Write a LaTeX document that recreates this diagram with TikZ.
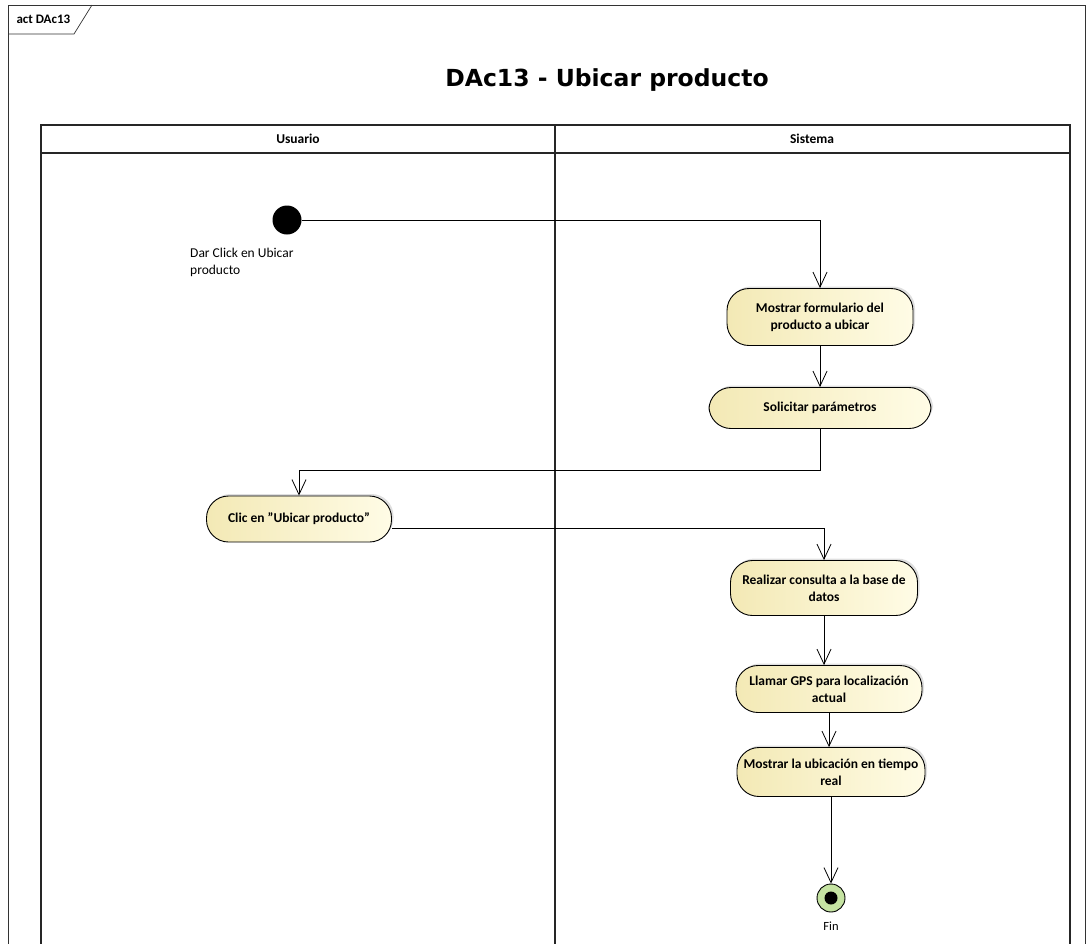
\documentclass[tikz,border=0pt]{standalone}
\usepackage{fontspec}
\setmainfont{Carlito}
\newfontfamily\titlefont{DejaVu Sans}
\usetikzlibrary{arrows.meta,shadows,calc}
\definecolor{actl}{HTML}{F3E9B5}
\definecolor{actr}{HTML}{FFFCE6}
\definecolor{fingreen}{HTML}{C5E3A2}
\tikzset{
  act/.style={draw=black, line width=0.9pt, rounded corners=22pt, left color=actl, right color=actr,
    align=center, font=\bfseries\fontsize{13.5}{17}\selectfont, inner sep=2pt,
    drop shadow={shadow xshift=2pt, shadow yshift=2pt, fill=black!25}},
  flow/.style={draw=black, line width=0.8pt, -{Straight Barb[length=15pt,width=14pt,line width=0.8pt]}},
  lane/.style={draw=black!85, line width=1.4pt},
  frm/.style={draw=black!80, line width=0.7pt},
}
\begin{document}
\begin{tikzpicture}[x=1pt,y=-1pt]
\useasboundingbox (0,0) rectangle (1090,943);
\begin{scope}
\clip (0,0) rectangle (1090,943);
% outer frame
\draw[frm] (8,960) -- (8,5) -- (1085,5) -- (1085,960);
\draw[frm] (8,34) -- (74,34) -- (92,5);
\node[anchor=west, font=\bfseries\fontsize{13}{15}\selectfont] (tab) at (13,19) {act DAc13};
% title
\node[font=\titlefont\bfseries\fontsize{23.5}{28}\selectfont] (title) at (607,80) {DAc13 - Ubicar producto};
% swimlanes
\draw[lane] (41,960) -- (41,125) -- (1070,125) -- (1070,960);
\draw[lane] (41,153) -- (1070,153);
\draw[lane] (555,125) -- (555,960);
\node[font=\bfseries\fontsize{13.5}{15}\selectfont] (usuario) at (298,139) {Usuario};
\node[font=\bfseries\fontsize{13.5}{15}\selectfont] (sistema) at (812,139) {Sistema};
\end{scope}
% initial node
\node[circle, fill=black, minimum size=29pt, inner sep=0pt] (init) at (287,220) {};
\node[anchor=north west, align=left, font=\fontsize{13.5}{17}\selectfont, inner sep=0pt] (initlbl) at (190,248) {Dar Click en Ubicar\\producto};
% activities
\node[act, minimum width=186pt, minimum height=57pt] (mf) at (820,317) {Mostrar formulario del\\producto a ubicar};
\node[act, minimum width=222pt, minimum height=41pt] (sp) at (820,408) {Solicitar parámetros};
\node[act, minimum width=185pt, minimum height=46pt] (clic) at (299,519) {Clic en {\char34}Ubicar producto{\char34}};
\node[act, minimum width=187pt, minimum height=55pt] (rc) at (824,588) {Realizar consulta a la base de\\datos};
\node[act, minimum width=186pt, minimum height=47pt] (gps) at (829,689) {Llamar GPS para localización\\actual};
\node[act, minimum width=188pt, minimum height=49pt] (mu) at (831,772) {Mostrar la ubicación en tiempo\\real};
% final node
\node[circle, draw=black, line width=0.9pt, fill=fingreen, minimum size=28pt, inner sep=0pt] (fin) at (831,898) {};
\node[circle, fill=black, minimum size=13pt, inner sep=0pt] (findot) at (fin) {};
\node[font=\fontsize{12.5}{15}\selectfont] (finlbl) at (831,926) {Fin};
% flows
\draw[flow] (init.east) -- (init.east -| mf.north) -- (mf.north);
\draw[flow] (mf.south) -- (sp.north);
\draw[flow] (sp.south) -- ++(0,41) -| (clic.north);
\draw[flow] ([yshift=-9pt]clic.east) -- ([yshift=-9pt]clic.east -| rc.north) -- (rc.north);
\draw[flow] (rc.south) -- (rc.south |- gps.north);
\draw[flow] (gps.south) -- (gps.south |- mu.north);
\draw[flow] (mu.south) -- (mu.south |- fin.north);
\end{tikzpicture}
\end{document}
